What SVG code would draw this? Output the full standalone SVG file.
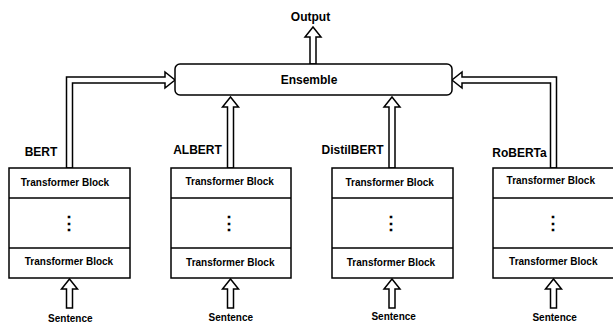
<svg xmlns="http://www.w3.org/2000/svg" width="613" height="325" viewBox="0 0 613 325">
<style>
.box{fill:#fff;stroke:#000;stroke-width:1.5}
.arr{fill:#fff;stroke:#000;stroke-width:1.5;stroke-linejoin:miter}
.ln{stroke:#000;stroke-width:1.5}
text{font-family:"Liberation Sans",Arial,sans-serif;font-weight:bold;fill:#000;text-anchor:middle}
.t12{font-size:12px}
.t10{font-size:10px}
.dots{font-size:18px}
</style>
<rect width="613" height="325" fill="#fff"/>
<g id="connectors">
  <path class="arr" d="M310,64 V37 H305 L313,27 L321,37 H316 V64 Z"/>
  <path class="arr" d="M66.5,168 V77 H165 V72 L175,80 L165,88 V83 H72.5 V168 Z"/>
  <path class="arr" d="M227.5,168 V107 H222.5 L230.5,97 L238.5,107 H233.5 V168 Z"/>
  <path class="arr" d="M389,168 V107 H384 L392,97 L400,107 H395 V168 Z"/>
  <path class="arr" d="M556.5,168 V77 H462 V72 L452,80 L462,88 V83 H550.5 V168 Z"/>
  <path class="arr" d="M66.5,308 V289 H61.5 L69.5,279 L77.5,289 H72.5 V308 Z"/>
  <path class="arr" d="M227.5,308 V289 H222.5 L230.5,279 L238.5,289 H233.5 V308 Z"/>
  <path class="arr" d="M389,308 V289 H384 L392,279 L400,289 H395 V308 Z"/>
  <path class="arr" d="M550.5,308 V289 H545.5 L553.5,279 L561.5,289 H556.5 V308 Z"/>
</g>
<g id="output"><text class="t12" x="310.5" y="21">Output</text></g>
<g id="ensemble">
  <rect class="box" x="175" y="64" width="277" height="31" rx="5"/>
  <text class="t12" x="309" y="84">Ensemble</text>
</g>
<g id="bert">
  <text class="t12" x="41" y="156">BERT</text>
  <rect class="box" x="9" y="168" width="121" height="110"/>
  <line class="ln" x1="9" y1="198" x2="130" y2="198"/>
  <line class="ln" x1="9" y1="248" x2="130" y2="248"/>
  <text class="t10" x="65" y="185.5">Transformer Block</text>
  <text class="dots" x="69" y="229">⋮</text>
  <text class="t10" x="69" y="264.5">Transformer Block</text>
  <text class="t10" x="70.3" y="321.5">Sentence</text>
</g>
<g id="albert">
  <text class="t12" x="197.5" y="154">ALBERT</text>
  <rect class="box" x="171" y="168" width="120" height="110"/>
  <line class="ln" x1="171" y1="198" x2="291" y2="198"/>
  <line class="ln" x1="171" y1="248" x2="291" y2="248"/>
  <text class="t10" x="229.7" y="185.2">Transformer Block</text>
  <text class="dots" x="229.3" y="229">⋮</text>
  <text class="t10" x="230.3" y="265.5">Transformer Block</text>
  <text class="t10" x="230.8" y="320.8">Sentence</text>
</g>
<g id="distilbert">
  <text class="t12" x="352.5" y="154">DistilBERT</text>
  <rect class="box" x="332" y="168" width="121" height="110"/>
  <line class="ln" x1="332" y1="198" x2="453" y2="198"/>
  <line class="ln" x1="332" y1="248" x2="453" y2="248"/>
  <text class="t10" x="389.7" y="185.5">Transformer Block</text>
  <text class="dots" x="391" y="229">⋮</text>
  <text class="t10" x="391" y="265.5">Transformer Block</text>
  <text class="t10" x="393.7" y="319.5">Sentence</text>
</g>
<g id="roberta">
  <text class="t12" x="519.5" y="157">RoBERTa</text>
  <rect class="box" x="493" y="168" width="122" height="110"/>
  <line class="ln" x1="493" y1="198" x2="615" y2="198"/>
  <line class="ln" x1="493" y1="248" x2="615" y2="248"/>
  <text class="t10" x="550.8" y="183.8">Transformer Block</text>
  <text class="dots" x="553.3" y="229">⋮</text>
  <text class="t10" x="553.3" y="265.2">Transformer Block</text>
  <text class="t10" x="554.7" y="321.2">Sentence</text>
</g>
</svg>
